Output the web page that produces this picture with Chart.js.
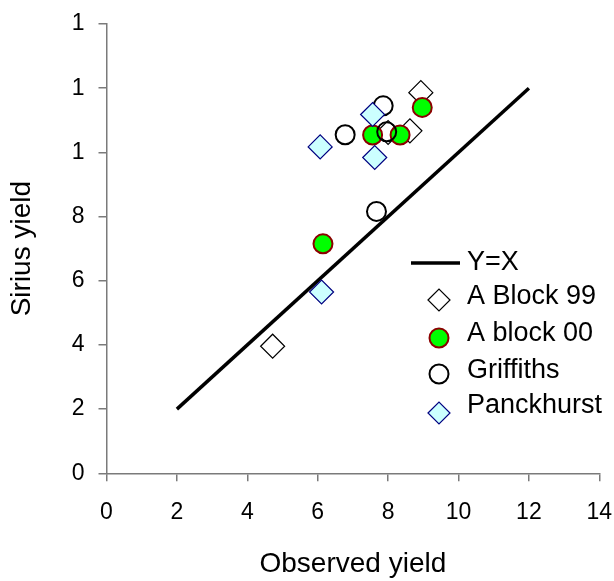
<!DOCTYPE html>
<html>
<head>
<meta charset="utf-8">
<title>Sirius yield vs observed yield</title>
<script src="https://cdn.jsdelivr.net/npm/chart.js@4.4.0/dist/chart.umd.min.js"></script>
<style>
  html, body { margin: 0; padding: 0; background: #fff; }
  #wrap { width: 614px; height: 581px; }
</style>
</head>
<body>
<div id="wrap"><canvas id="chart" width="614" height="581"></canvas></div>
<script>
  // values (x = observed, y = Sirius)
  const lineYX = [[2, 2], [12, 12]];
  const aBlock99 = [[4.72, 3.96], [8.62, 10.67], [8.93, 11.86], [8.0, 10.62]];
  const aBlock00 = [[6.15, 7.15], [7.56, 10.54], [8.34, 10.54], [8.97, 11.40]];
  const griffiths = [[6.78, 10.55], [7.86, 11.45], [7.96, 10.64], [7.67, 8.16]];
  const panckhurst = [[6.11, 5.65], [6.07, 10.17], [7.56, 11.18], [7.62, 9.84]];

  const seriesNames = ['Y=X', 'A Block 99', 'A block 00', 'Griffiths', 'Panckhurst'];
  const xTickLabels = ['0', '2', '4', '6', '8', '10', '12', '14'];
  const yTickLabels = ['0', '2', '4', '6', '8', '1', '1', '1'];

  const FONT = '"Liberation Sans", Arial, Helvetica, sans-serif';
  const AXIS_GREY = '#7a7a7a';

  const toPts = arr => arr.map(p => ({x: p[0], y: p[1]}));

  const datasets = [
    {
      label: seriesNames[0], data: toPts(lineYX), showLine: true,
      borderColor: '#000', borderWidth: 3.5, pointRadius: 0, order: 4,
      legendKind: 'line'
    },
    {
      label: seriesNames[1], data: toPts(aBlock99), pointStyle: 'rectRot',
      pointRadius: 12, backgroundColor: '#fff', borderColor: '#000',
      borderWidth: 1.2, order: 3, legendRadius: 11
    },
    {
      label: seriesNames[2], data: toPts(aBlock00), pointStyle: 'circle',
      pointRadius: 9.5, backgroundColor: '#00ff00', borderColor: '#8b0000',
      borderWidth: 2, order: 2, legendRadius: 9.5
    },
    {
      label: seriesNames[3], data: toPts(griffiths), pointStyle: 'circle',
      pointRadius: 9.5, backgroundColor: 'rgba(255,255,255,0)', borderColor: '#000',
      borderWidth: 2, order: 1, legendRadius: 9.5
    },
    {
      label: seriesNames[4], data: toPts(panckhurst), pointStyle: 'rectRot',
      pointRadius: 12, backgroundColor: '#ccffff', borderColor: '#000080',
      borderWidth: 1.2, order: 0, legendRadius: 11
    }
  ];

  // legend sits inside the plot, to the right of the Y=X line
  const legendTextY = [263, 297, 334, 371, 406];
  const legendMarkY = [263, 300, 338, 374, 413];

  function drawMarker(ctx, ds, x, y){
    const r = ds.legendRadius;
    ctx.beginPath();
    if(ds.pointStyle === 'rectRot'){
      ctx.moveTo(x - r, y);
      ctx.lineTo(x, y - r);
      ctx.lineTo(x + r, y);
      ctx.lineTo(x, y + r);
      ctx.closePath();
    } else {
      ctx.arc(x, y, r, 0, Math.PI * 2);
    }
    ctx.fillStyle = ds.backgroundColor;
    ctx.fill();
    ctx.lineWidth = ds.borderWidth;
    ctx.strokeStyle = ds.borderColor;
    ctx.stroke();
  }

  const insideLegend = {
    id: 'insideLegend',
    afterDraw(chart){
      const ctx = chart.ctx;
      ctx.save();
      chart.data.datasets.forEach((ds, i) => {
        if(ds.legendKind === 'line'){
          ctx.beginPath();
          ctx.moveTo(411, legendMarkY[i]);
          ctx.lineTo(460, legendMarkY[i]);
          ctx.lineWidth = ds.borderWidth;
          ctx.strokeStyle = ds.borderColor;
          ctx.stroke();
        } else {
          drawMarker(ctx, ds, 439, legendMarkY[i]);
        }
        ctx.font = '27px ' + FONT;
        ctx.fillStyle = '#000';
        ctx.textAlign = 'left';
        ctx.textBaseline = 'middle';
        ctx.fillText(ds.label, 467, legendTextY[i]);
      });
      ctx.restore();
    }
  };

  new Chart(document.getElementById('chart'), {
    type: 'scatter',
    data: { datasets },
    plugins: [insideLegend],
    options: {
      responsive: false,
      animation: false,
      layout: { padding: { top: 24, right: 14.7, left: 0, bottom: 0 } },
      plugins: {
        legend: { display: false },
        tooltip: { enabled: false }
      },
      elements: { line: { tension: 0 } },
      scales: {
        x: {
          type: 'linear', min: 0, max: 14,
          afterFit: s => { s.height = 107.7; s.paddingLeft = 0; s.paddingRight = 0; },
          ticks: {
            stepSize: 2, padding: 18, color: '#000',
            font: { family: FONT, size: 23 },
            callback: v => xTickLabels[Math.round(v / 2)]
          },
          grid: { drawOnChartArea: false, drawTicks: true, tickLength: 8, color: AXIS_GREY, lineWidth: 1.5 },
          border: { color: AXIS_GREY, width: 1.5 },
          title: {
            display: true, text: 'Observed yield', color: '#000',
            font: { family: FONT, size: 28, lineHeight: 1.2 },
            padding: { top: 0, bottom: 0 }
          }
        },
        y: {
          type: 'linear', min: 0, max: 14,
          afterFit: s => { s.width = 106.5; s.paddingTop = 0; s.paddingBottom = 0; },
          ticks: {
            stepSize: 2, padding: 14, color: '#000',
            font: { family: FONT, size: 23 },
            callback: v => yTickLabels[Math.round(v / 2)]
          },
          grid: { drawOnChartArea: false, drawTicks: true, tickLength: 8, color: AXIS_GREY, lineWidth: 1.5 },
          border: { color: AXIS_GREY, width: 1.5 },
          title: {
            display: true, text: 'Sirius yield', color: '#000',
            font: { family: FONT, size: 28, lineHeight: 1.2 },
            padding: { top: 5, bottom: 0 }
          }
        }
      }
    }
  });
</script>
</body>
</html>
